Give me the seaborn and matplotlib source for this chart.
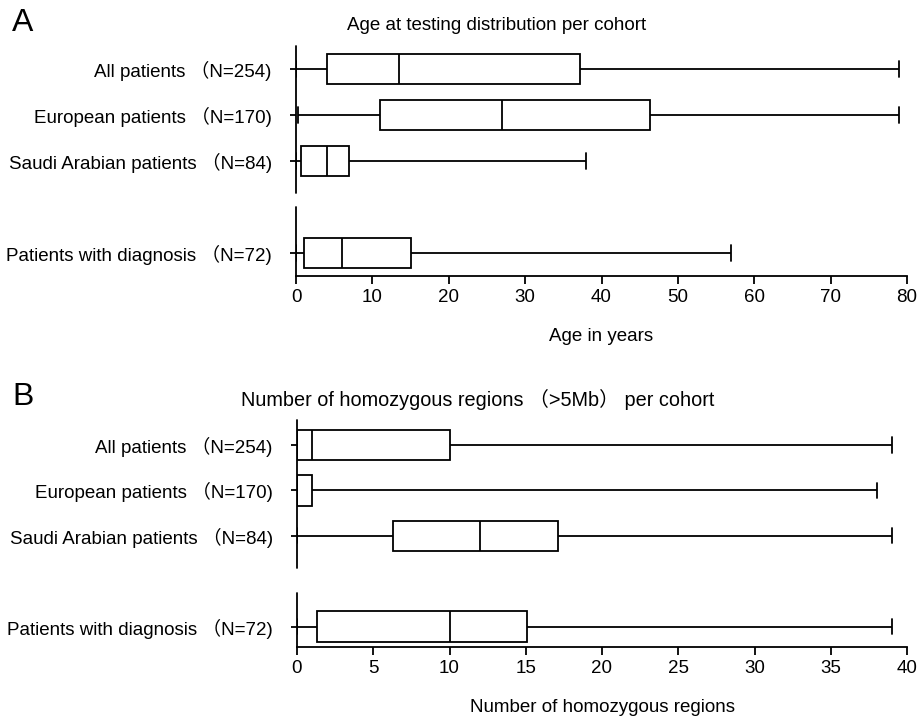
import numpy as np
import pandas as pd
import matplotlib
matplotlib.use("Agg")
import matplotlib.pyplot as plt
import seaborn as sns

####### DATA #######
cohorts = ["All patients （N=254)", "European patients （N=170)",
           "Saudi Arabian patients （N=84)", "Patients with diagnosis （N=72)"]

# five-number summaries: min, Q1, median, Q3, max
age_all = [0, 4, 13.5, 37.2, 79]
age_eur = [0.3, 11, 27, 46.3, 79]
age_saudi = [0, 0.7, 4.1, 7, 38]
age_diag = [0, 1.05, 6, 15.1, 57]

roh_all = [0, 0, 1, 10, 39]
roh_eur = [0, 0, 0, 1, 38]
roh_saudi = [0, 6.3, 12, 17.1, 39]
roh_diag = [0, 1.3, 10, 15.1, 39]

age_ticks = [0, 10, 20, 30, 40, 50, 60, 70, 80]
roh_ticks = [0, 5, 10, 15, 20, 25, 30, 35, 40]


def long_df(groups):
    # one row per value, cohort as category
    rows = []
    for name, vals in zip(cohorts, groups):
        for v in vals:
            rows.append((name, v))
    return pd.DataFrame(rows, columns=["cohort", "value"])


sns.set_theme(style="ticks")
plt.rcParams['font.family'] = ['Liberation Sans', 'Noto Sans CJK SC', 'DejaVu Sans']
plt.rcParams['axes.linewidth'] = 1.3
plt.rcParams['xtick.major.width'] = 1.3
plt.rcParams['ytick.major.width'] = 1.3
for key in ['text.color', 'axes.labelcolor', 'xtick.color', 'ytick.color', 'axes.edgecolor']:
    plt.rcParams[key] = 'black'
FS = 13.5

# blank slot between the third and fourth cohort
order = cohorts[:3] + [" "] + cohorts[3:]

fig = plt.figure(figsize=(9.21, 7.22), dpi=100)
W, H = 921, 722


def panel(rect, groups, ticks, xlabel, ylim, gap):
    ax = fig.add_axes(rect)
    df = long_df(groups)
    sns.boxplot(data=df, x="value", y="cohort", order=order, orient="h",
                whis=(0, 100), width=0.67, color="white", linecolor="black",
                linewidth=1.3, showfliers=False, ax=ax)
    ax.set_xlim(ticks[0], ticks[-1])
    ax.set_xticks(ticks)
    ax.set_ylim(*ylim)
    ax.set_yticks([0, 1, 2, 4])
    ax.set_yticklabels(cohorts)
    ax.set_ylabel("")
    ax.set_xlabel(xlabel, fontsize=FS, labelpad=16)
    ax.tick_params(axis="x", length=6, pad=3.5, labelsize=FS)
    ax.tick_params(axis="y", length=4.5, pad=13, labelsize=FS)
    sns.despine(ax=ax, left=True)
    # left axis line with a break before the last cohort
    ax.axvline(0, ymin=0, ymax=gap[0], color="black", lw=1.3, clip_on=False)
    ax.axvline(0, ymin=gap[1], ymax=1, color="black", lw=1.3, clip_on=False)
    return ax


axA = panel([296 / W, 1 - 276 / H, (907 - 296) / W, (276 - 46) / H],
            [age_all, age_eur, age_saudi, age_diag], age_ticks,
            "Age in years", (4.5, -0.5), (0.30, 0.36))
axB = panel([297 / W, 1 - 647 / H, (907 - 297) / W, (647 - 420) / H],
            [roh_all, roh_eur, roh_saudi, roh_diag], roh_ticks,
            "Number of homozygous regions", (4.45, -0.55), (0.24, 0.35))

fig.text(497 / W, 1 - 25 / H, "Age at testing distribution per cohort",
         ha="center", va="center", fontsize=FS)
fig.text(478 / W, 1 - 399 / H, "Number of homozygous regions （>5Mb） per cohort",
         ha="center", va="center", fontsize=14.3)
fig.text(12 / W, 1 - 23 / H, "A", ha="left", va="center", fontsize=23)
fig.text(12 / W, 1 - 397 / H, "B", ha="left", va="center", fontsize=23)

fig.savefig("out.png", dpi=100, facecolor="white")
